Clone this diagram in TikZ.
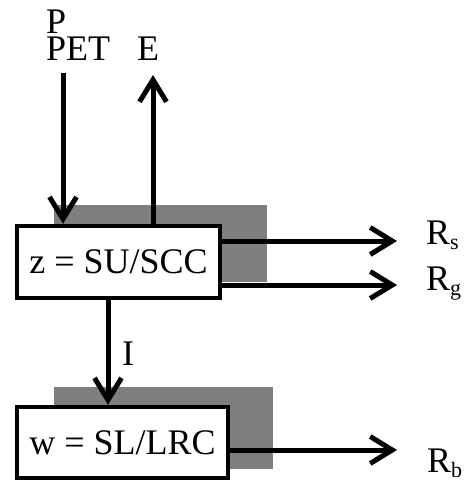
\documentclass[tikz,border=0pt]{standalone}
\usepackage{fontspec}
\setmainfont{Liberation Serif}
\usepackage{tikz}
\usetikzlibrary{arrows.meta, positioning, calc}
\usepackage{xcolor}
\definecolor{shadegray}{RGB}{126,126,126}
\newcommand{\runsub}[1]{\raisebox{-5pt}{\fontsize{22}{22}\selectfont #1}}

\begin{document}
\begin{tikzpicture}[x=1pt, y=-1pt,
  every node/.style={font=\fontsize{36}{27}\selectfont},
  store/.style={draw, line width=4.5pt, fill=white, inner sep=0pt},
  flow/.style={line width=5pt, -{Straight Barb[length=22pt, width=27pt, line width=5pt]}},
  lbl/.style={anchor=base west, inner sep=0pt}]
  \useasboundingbox (0,0) rectangle (466,483);
  % Shadows
  \fill[shadegray] (54,205) rectangle (267,282);
  \fill[shadegray] (54,387) rectangle (273,469);
  % Stores
  \node[store, minimum width=203pt, minimum height=72pt] (zbox) at (118.5,262) {z = SU/SCC};
  \node[store, minimum width=211pt, minimum height=71pt] (wbox) at (122.5,442.5) {w = SL/LRC};
  % Inputs and losses on top
  \node[lbl, align=left] (pin) at (46,60) {P\\PET};
  \node[lbl] (eout) at (137,60) {E};
  \coordinate (pstart) at (63,73);
  \coordinate (etip) at (153,75);
  \draw[flow] (pstart) -- (pstart |- zbox.north);
  \draw[flow] (etip |- zbox.north) -- (etip);
  % Runoff
  \coordinate (rstip) at (397,241);
  \coordinate (rgtip) at (397,285);
  \coordinate (rbtip) at (397,450);
  \draw[flow] (zbox.east |- rstip) -- (rstip);
  \draw[flow] (zbox.east |- rgtip) -- (rgtip);
  \draw[flow] (wbox.east |- rbtip) -- (rbtip);
  \node[lbl] (rs) at (426,244) {R\runsub{s}};
  \node[lbl] (rg) at (426,290) {R\runsub{g}};
  \node[lbl] (rb) at (427,472) {R\runsub{b}};
  % Infiltration
  \coordinate (itop) at (108,300);
  \draw[flow] (itop |- zbox.south) -- (itop |- wbox.north);
  \node[lbl] (ilbl) at (122,365) {I};
\end{tikzpicture}
\end{document}
